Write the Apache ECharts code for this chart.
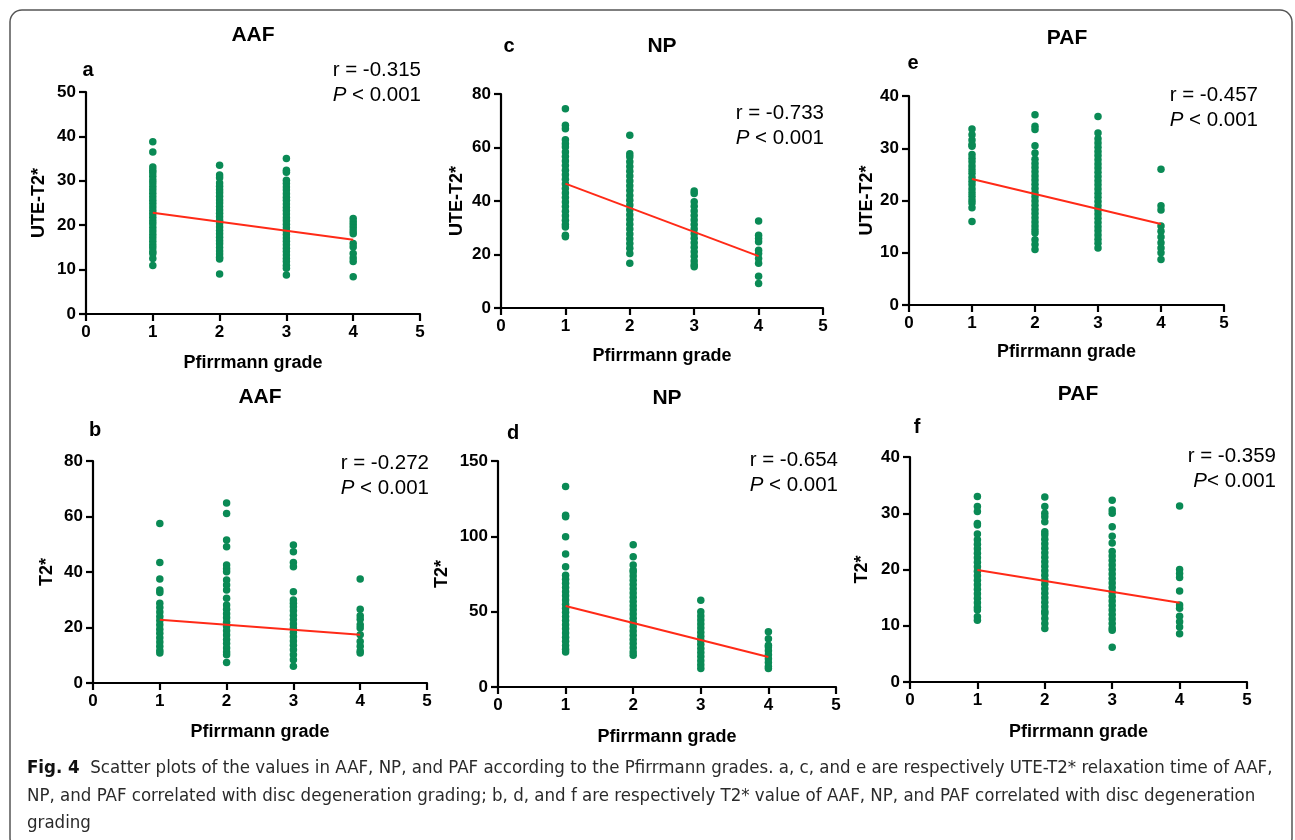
<!DOCTYPE html>
<html>
<head>
<meta charset="utf-8">
<script src="https://cdn.jsdelivr.net/npm/echarts@6/dist/echarts.min.js"></script>
<style>
  html, body { margin: 0; padding: 0; background: #fff; }
  #main { width: 1295px; height: 840px; }
</style>
</head>
<body>
<div id="main"></div>
<script>
// grades on the x axis
var grades = [1, 2, 3, 4];
var xTicks = [0, 1, 2, 3, 4, 5];

// a: UTE-T2* of AAF
var aafUte1 = [38.8, 36.5, 33.1, 32.4, 31.8, 31.0, 30.2, 29.5, 28.7, 28.0, 27.2, 26.4, 25.6, 24.9, 24.1, 23.3, 22.6, 21.8, 21.0, 20.3, 19.5, 18.7, 17.9, 17.2, 16.4, 15.6, 14.9, 14.1, 13.6, 12.5, 10.9];
var aafUte2 = [33.5, 31.3, 30.7, 29.5, 28.8, 28.0, 27.3, 26.5, 25.7, 25.0, 24.2, 23.4, 22.7, 21.9, 21.1, 20.4, 19.6, 18.8, 18.1, 17.3, 16.5, 15.8, 15.0, 14.2, 13.5, 12.8, 12.4, 9.0];
var aafUte3 = [35.0, 32.4, 31.9, 30.1, 29.4, 28.6, 27.9, 27.1, 26.3, 25.6, 24.8, 24.0, 23.3, 22.5, 21.7, 21.0, 20.2, 19.4, 18.7, 17.9, 17.1, 16.4, 15.6, 14.8, 14.1, 13.3, 12.5, 11.8, 11.0, 10.3, 8.8];
var aafUte4 = [21.5, 20.8, 20.1, 19.4, 18.7, 18.1, 15.9, 15.1, 13.6, 12.6, 11.8, 8.4];
var aafUteFit = [22.8, 16.7];

// c: UTE-T2* of NP
var npUte1 = [74.5, 68.3, 67.0, 62.9, 61.4, 60.2, 58.3, 56.6, 55.0, 53.3, 51.5, 49.8, 48.1, 46.4, 44.7, 43.0, 41.3, 39.6, 37.9, 36.2, 34.5, 32.8, 31.2, 30.3, 27.2, 26.6];
var npUte2 = [64.6, 57.7, 56.5, 54.7, 52.9, 51.1, 49.3, 47.5, 45.7, 43.9, 42.1, 40.3, 38.5, 36.7, 34.9, 33.1, 31.3, 29.5, 27.7, 25.9, 24.1, 22.3, 20.4, 16.7];
var npUte3 = [43.7, 42.8, 39.7, 38.0, 36.3, 34.6, 32.9, 31.2, 29.5, 27.8, 26.1, 24.4, 22.7, 21.0, 19.3, 17.6, 16.2, 15.4];
var npUte4 = [32.5, 27.2, 26.0, 24.8, 21.6, 20.4, 18.5, 16.7, 11.9, 9.2];
var npUteFit = [46.5, 19.4];

// e: UTE-T2* of PAF
var pafUte1 = [33.7, 32.6, 31.6, 30.7, 30.4, 28.8, 28.1, 27.4, 26.6, 25.9, 25.2, 24.4, 23.7, 23.0, 22.2, 21.5, 20.8, 20.1, 19.5, 18.6, 16.0];
var pafUte2 = [36.4, 34.2, 33.6, 30.5, 29.1, 27.9, 27.1, 26.3, 25.5, 24.7, 23.9, 23.1, 22.3, 21.5, 20.7, 19.9, 19.1, 18.3, 17.5, 16.7, 15.9, 15.1, 14.4, 13.8, 12.5, 11.6, 10.6];
var pafUte3 = [36.1, 32.9, 31.8, 31.0, 30.2, 29.4, 28.6, 27.8, 27.0, 26.2, 25.4, 24.6, 23.8, 23.0, 22.2, 21.4, 20.6, 19.8, 19.0, 18.2, 17.4, 16.6, 15.8, 15.0, 14.2, 13.4, 12.6, 11.8, 10.9];
var pafUte4 = [26.0, 19.0, 18.2, 15.1, 14.1, 13.0, 11.9, 10.9, 10.0, 8.7];
var pafUteFit = [24.1, 15.5];

// b: T2* of AAF
var aafT1 = [57.5, 43.4, 37.5, 33.5, 32.6, 28.7, 27.2, 25.6, 24.0, 22.5, 21.0, 19.4, 17.9, 16.3, 14.8, 13.2, 11.7, 10.8];
var aafT2 = [64.9, 61.1, 51.5, 49.1, 42.5, 41.2, 40.1, 37.1, 35.3, 33.5, 30.5, 28.1, 26.6, 25.0, 23.5, 21.9, 20.4, 18.8, 17.3, 15.7, 14.2, 12.6, 11.2, 10.2, 7.4];
var aafT3 = [49.7, 47.3, 43.4, 41.9, 32.9, 29.9, 28.7, 27.5, 26.0, 24.4, 22.9, 21.3, 19.8, 18.2, 16.7, 15.1, 13.6, 12.0, 10.2, 8.4, 6.0];
var aafT4 = [37.5, 26.6, 24.2, 23.0, 21.0, 19.8, 17.4, 15.0, 13.2, 11.5, 10.8];
var aafTFit = [22.75, 17.4];

// d: T2* of NP
var npT1 = [133, 114, 113, 99.7, 88.2, 79.8, 74.2, 71.5, 68.8, 66.0, 63.3, 60.5, 57.8, 55.0, 52.3, 49.6, 46.8, 44.1, 41.3, 38.6, 35.8, 33.1, 30.3, 27.6, 25.0, 23.3];
var npT2 = [94.4, 86.4, 80.9, 77.6, 76.4, 73.6, 70.8, 68.0, 65.2, 62.4, 59.6, 56.8, 54.0, 51.2, 48.4, 45.6, 42.8, 40.0, 37.2, 34.4, 31.6, 28.8, 26.0, 23.2, 21.0];
var npT3 = [57.6, 49.9, 47.2, 44.5, 41.8, 39.1, 36.4, 33.7, 31.0, 28.3, 25.6, 22.9, 20.2, 17.5, 14.8, 12.2];
var npT4 = [36.6, 32.1, 27.7, 26.6, 24.0, 21.4, 18.8, 16.2, 13.6, 12.2];
var npTFit = [53.8, 19.9];

// f: T2* of PAF
var pafT1 = [33.0, 31.2, 30.3, 28.2, 27.9, 26.3, 25.3, 24.5, 23.7, 22.9, 22.1, 21.3, 20.5, 19.7, 18.9, 18.1, 17.3, 16.5, 15.7, 14.9, 14.1, 13.3, 12.8, 11.6, 11.0];
var pafT2 = [32.9, 31.2, 30.0, 29.4, 28.5, 26.7, 26.2, 25.4, 24.6, 23.8, 23.0, 22.2, 21.4, 20.6, 19.8, 19.0, 18.2, 17.4, 16.6, 15.8, 15.0, 14.2, 13.4, 12.6, 12.2, 11.3, 10.4, 9.5];
var pafT3 = [32.3, 30.6, 30.0, 27.6, 25.9, 24.7, 23.2, 22.4, 21.6, 20.8, 20.0, 19.2, 18.4, 17.6, 16.8, 16.0, 15.2, 14.4, 13.6, 12.8, 12.0, 11.2, 10.4, 9.6, 9.2, 6.2];
var pafT4 = [31.3, 20.0, 19.3, 18.6, 16.2, 13.7, 13.1, 11.7, 10.7, 9.8, 8.6];
var pafTFit = [19.9, 14.1];

var panelTitles = ['AAF', 'NP', 'PAF', 'AAF', 'NP', 'PAF'];
var panelLetters = ['a', 'c', 'e', 'b', 'd', 'f'];
var panelR = ['r = -0.315', 'r = -0.733', 'r = -0.457', 'r = -0.272', 'r = -0.654', 'r = -0.359'];
var yNames = ['UTE-T2*', 'UTE-T2*', 'UTE-T2*', 'T2*', 'T2*', 'T2*'];
var yMax = [50, 80, 40, 80, 150, 40];
var yStep = [10, 20, 10, 20, 50, 10];

var groups = [
  [aafUte1, aafUte2, aafUte3, aafUte4],
  [npUte1, npUte2, npUte3, npUte4],
  [pafUte1, pafUte2, pafUte3, pafUte4],
  [aafT1, aafT2, aafT3, aafT4],
  [npT1, npT2, npT3, npT4],
  [pafT1, pafT2, pafT3, pafT4]
];
var fits = [aafUteFit, npUteFit, pafUteFit, aafTFit, npTFit, pafTFit];

// layout of each plot (px)
var boxes = [
  {left: 86, top: 92, width: 334, height: 222, yGap: 38, xGap: 40},
  {left: 501, top: 94, width: 322, height: 214, yGap: 35, xGap: 39},
  {left: 909, top: 96, width: 315, height: 209, yGap: 33, xGap: 38},
  {left: 93, top: 461, width: 334, height: 222, yGap: 37, xGap: 40},
  {left: 498, top: 461, width: 338, height: 226, yGap: 47, xGap: 41},
  {left: 910, top: 457, width: 337, height: 225, yGap: 39, xGap: 41}
];
// title, letter, stat text anchors
var titlePos = [[253, 35], [662, 46], [1067, 38], [260, 397], [667, 398], [1078, 394]];
var letterPos = [[88, 70], [509, 46], [913, 63], [95, 430], [513, 433], [917, 427]];
var statPos = [[421, 70], [824, 113], [1258, 95], [429, 463], [838, 460], [1276, 456]];
var pText = ['< 0.001', '< 0.001', '< 0.001', '< 0.001', '< 0.001', '< 0.001'];
var pSpace = [' ', ' ', ' ', ' ', ' ', ''];

var green = '#0a8a55';
var red = '#ff2a17';
var font = '"Liberation Sans", Arial, Helvetica, sans-serif';

var grid = [], xAxis = [], yAxis = [], series = [], graphic = [];

for (var i = 0; i < 6; i++) {
  var b = boxes[i];
  grid.push({left: b.left, top: b.top, width: b.width, height: b.height, containLabel: false});
  xAxis.push({
    type: 'value', gridIndex: i, min: 0, max: 5, interval: 1,
    name: 'Pfirrmann grade', nameLocation: 'middle', nameGap: b.xGap,
    nameTextStyle: {fontFamily: font, fontWeight: 'bold', fontSize: 18, color: '#000'},
    axisLine: {show: true, lineStyle: {color: '#000', width: 2.2}},
    axisTick: {show: true, length: 7, lineStyle: {color: '#000', width: 2.2}},
    axisLabel: {margin: 10, fontFamily: font, fontWeight: 'bold', fontSize: 17, color: '#000'},
    splitLine: {show: false}
  });
  yAxis.push({
    type: 'value', gridIndex: i, min: 0, max: yMax[i], interval: yStep[i],
    name: yNames[i], nameLocation: 'middle', nameGap: b.yGap, nameRotate: 90,
    nameTextStyle: {fontFamily: font, fontWeight: 'bold', fontSize: 18, color: '#000'},
    axisLine: {show: true, lineStyle: {color: '#000', width: 2.2}},
    axisTick: {show: true, length: 7, lineStyle: {color: '#000', width: 2.2}},
    axisLabel: {margin: 10, fontFamily: font, fontWeight: 'bold', fontSize: 17, color: '#000'},
    splitLine: {show: false}
  });
  var pts = [];
  for (var g = 0; g < grades.length; g++) {
    groups[i][g].forEach(function (v) { pts.push([grades[g], v]); });
  }
  series.push({
    type: 'scatter', xAxisIndex: i, yAxisIndex: i, data: pts,
    symbolSize: 7.5, itemStyle: {color: green, opacity: 1}, z: 2
  });
  series.push({
    type: 'line', xAxisIndex: i, yAxisIndex: i,
    data: [[grades[0], fits[i][0]], [grades[3], fits[i][1]]],
    symbol: 'none', lineStyle: {color: red, width: 2}, z: 3
  });

  graphic.push({
    type: 'text', x: titlePos[i][0], y: titlePos[i][1],
    style: {text: panelTitles[i], fontFamily: font, fontWeight: 'bold', fontSize: 21,
      fill: '#000', align: 'center', verticalAlign: 'middle'}
  });
  graphic.push({
    type: 'text', x: letterPos[i][0], y: letterPos[i][1],
    style: {text: panelLetters[i], fontFamily: font, fontWeight: 'bold', fontSize: 20,
      fill: '#000', align: 'center', verticalAlign: 'middle'}
  });
  graphic.push({
    type: 'text', x: statPos[i][0], y: statPos[i][1],
    style: {text: panelR[i], fontFamily: font, fontSize: 20.5, fill: '#000',
      align: 'right', verticalAlign: 'middle'}
  });
  graphic.push({
    type: 'text', x: statPos[i][0], y: statPos[i][1] + 25,
    style: {text: '{i|P}' + pSpace[i] + pText[i], fontFamily: font, fontSize: 20.5, fill: '#000',
      align: 'right', verticalAlign: 'middle',
      rich: {i: {fontFamily: font, fontStyle: 'italic', fontSize: 20.5, fill: '#000'}}}
  });
}

// frame around the figure
graphic.push({
  type: 'rect', shape: {x: 10, y: 10, width: 1282, height: 840, r: 12},
  style: {fill: 'none', stroke: '#555', lineWidth: 1.5}, z: -1
});

// caption
var capFont = '"DejaVu Sans Condensed", "Liberation Sans Narrow", "Open Sans", sans-serif';
var capLines = [
  '{b|Fig. 4}  Scatter plots of the values in AAF, NP, and PAF according to the Pfirrmann grades. a, c, and e are respectively UTE-T2* relaxation time of AAF,',
  'NP, and PAF correlated with disc degeneration grading; b, d, and f are respectively T2* value of AAF, NP, and PAF correlated with disc degeneration',
  'grading'
];
var capY = [768, 796, 823];
capLines.forEach(function (t, k) {
  graphic.push({
    type: 'text', x: 27, y: capY[k],
    style: {text: t, fontFamily: capFont, fontSize: 18.5, fill: '#2a2a2a',
      verticalAlign: 'middle',
      rich: {b: {fontFamily: capFont, fontWeight: 'bold', fontSize: 18.5, fill: '#111'}}}
  });
});

var chart = echarts.init(document.getElementById('main'));
chart.setOption({
  animation: false,
  backgroundColor: '#fff',
  grid: grid,
  xAxis: xAxis,
  yAxis: yAxis,
  series: series,
  graphic: graphic
});
</script>
</body>
</html>
